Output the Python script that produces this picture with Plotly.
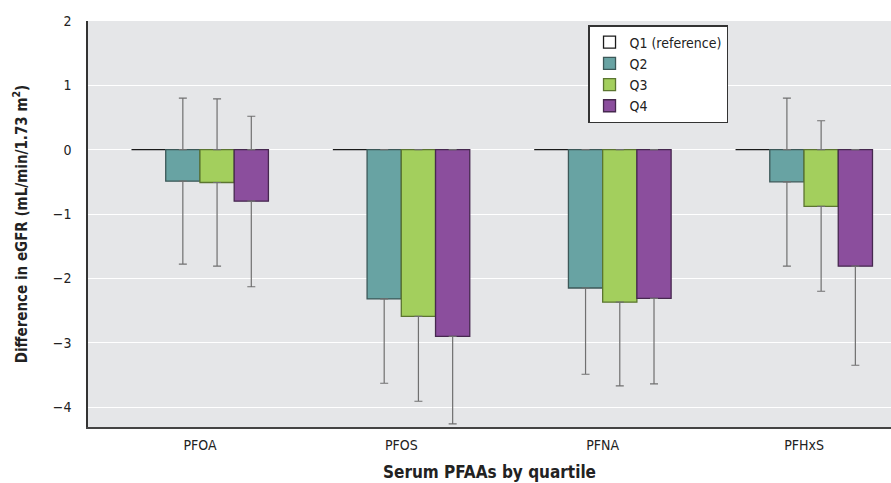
import plotly.graph_objects as go

categories = ["PFOA", "PFOS", "PFNA", "PFHxS"]
quartiles = ["Q1 (reference)", "Q2", "Q3", "Q4"]

# Difference in eGFR (mean) per quartile, per PFAA
q1_values = [0, 0, 0, 0]
q2_values = [-0.49, -2.32, -2.15, -0.50]
q3_values = [-0.51, -2.59, -2.37, -0.88]
q4_values = [-0.80, -2.90, -2.31, -1.81]

# Lower 95% CI limits
q2_lower = [-1.78, -3.63, -3.49, -1.81]
q3_lower = [-1.81, -3.91, -3.67, -2.20]
q4_lower = [-2.13, -4.26, -3.64, -3.35]

# Upper 95% CI limits (visible ones; hidden ones symmetric)
q2_upper = [0.80, -1.01, -0.81, 0.80]
q3_upper = [0.79, -1.27, -1.07, 0.45]
q4_upper = [0.52, -1.54, -0.98, -0.27]

fills = ["#ffffff", "#68a3a3", "#a3cf5d", "#8b4e9d"]
edges = ["#1a1a1a", "#3c5858", "#5b7530", "#46284f"]
err_color = "#707070"

FONT = "DejaVu Sans Condensed, Liberation Sans Narrow, sans-serif"

fig = go.Figure()

series = [
    (q1_values, None, None),
    (q2_values, q2_lower, q2_upper),
    (q3_values, q3_lower, q3_upper),
    (q4_values, q4_lower, q4_upper),
]

for i, (vals, low, up) in enumerate(series):
    name = quartiles[i]
    kw = {}
    if low is not None:
        kw["error_y"] = dict(
            type="data", symmetric=False,
            array=[0] * len(vals),
            arrayminus=[v - l for v, l in zip(vals, low)],
            color=err_color, thickness=1.2, width=4,
        )
    fig.add_trace(go.Bar(
        x=categories, y=vals, name=name, offsetgroup=str(i),
        marker=dict(color=fills[i], line=dict(color=edges[i], width=1.3)),
        **kw,
    ))
    if up is not None:
        # upper whisker: visible only above zero (bar hides the rest)
        fig.add_trace(go.Bar(
            x=categories, y=[0] * len(vals), offsetgroup=str(i),
            showlegend=False, hoverinfo="skip",
            marker=dict(color="rgba(0,0,0,0)", line=dict(width=0)),
            error_y=dict(
                type="data", symmetric=False,
                array=[max(0, u) for u in up],
                arrayminus=[0] * len(vals),
                color=err_color, thickness=1.2, width=4,
                visible=True,
            ),
        ))

fig.update_layout(
    width=891, height=483,
    margin=dict(l=88, r=0, t=21, b=56),
    paper_bgcolor="white",
    plot_bgcolor="#e5e6e8",
    barmode="group",
    bargap=0.32,
    bargroupgap=0,
    font=dict(family=FONT, size=14, color="#222222"),
    showlegend=True,
    legend=dict(
        x=0.6227, y=0.99, xanchor="left", yanchor="top",
        bgcolor="white", bordercolor="#333333", borderwidth=1.5,
        font=dict(family=FONT, size=14, color="#222222"),
        traceorder="normal",
        tracegroupgap=0,
        entrywidth=108,
    ),
)

fig.update_xaxes(
    type="category",
    range=[-0.556, 3.432],
    showgrid=False,
    showline=True, linecolor="#444444", linewidth=2,
    ticks="", ticklabelstandoff=4,
    tickfont=dict(family=FONT, size=14, color="#222222"),
    title=dict(text="<b>Serum PFAAs by quartile</b>",
               font=dict(family=FONT, size=17, color="#222222"),
               standoff=14),
)

fig.update_yaxes(
    range=[-4.31, 2.0],
    tickvals=[2, 1, 0, -1, -2, -3, -4],
    showgrid=True, gridcolor="white", gridwidth=1.3,
    zeroline=False,
    showline=True, linecolor="#333333", linewidth=1.5,
    ticks="", ticklabelstandoff=12,
    tickfont=dict(family=FONT, size=14, color="#222222"),
    title=dict(text="<b>Difference in eGFR (mL/min/1.73 m<sup>2</sup>)</b>",
               font=dict(family=FONT, size=15, color="#222222"),
               standoff=22),
)

fig.write_html("out.html", config={"displayModeBar": False},
               post_script="document.body.style.margin='0';")
